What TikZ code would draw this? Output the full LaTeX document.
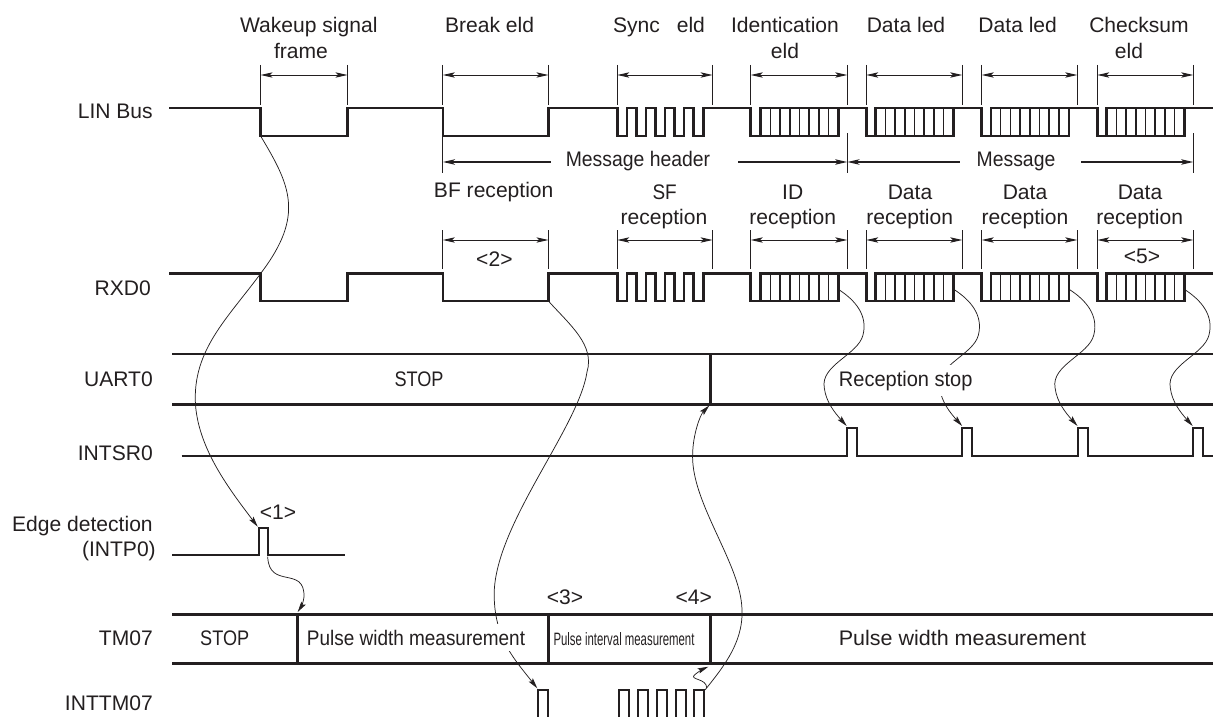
\documentclass[tikz,border=0pt]{standalone}
\usepackage{graphicx}
\usepackage{fontspec}
\setmainfont{Liberation Sans}
\usetikzlibrary{arrows.meta, positioning}
\definecolor{ink}{HTML}{231F20}

\begin{document}
\begin{tikzpicture}[
    x=0.75pt, y=-0.75pt,
    every node/.style={font=\fontsize{15.8}{18}\selectfont, text=ink, inner sep=0pt, anchor=base},
    leftlabel/.style={anchor=base east},
    wave/.style={draw=ink, line width=1.9pt, line join=miter},
    flagline/.style={draw=ink, line width=1.5pt},
    tooth/.style={draw=ink, line width=1.1pt},
    band/.style={draw=ink, line width=2pt},
    tick/.style={draw=ink, line width=0.6pt},
    dim/.style={draw=ink, line width=0.7pt, {Stealth[length=9pt, width=4pt, inset=2pt]}-{Stealth[length=9pt, width=4pt, inset=2pt]}},
    span/.style={draw=ink, line width=1.3pt},
    trace/.style={draw=ink, line width=0.55pt, -{Stealth[length=8pt, width=4pt, inset=1.5pt]}},
    blank/.style={fill=white, inner xsep=1pt, inner ysep=4pt}
]
    \useasboundingbox (0,0) rectangle (1213,717);

    % waveforms on the two bus rows
    \foreach \hi/\lo in {108/136, 273.5/301} {
        \draw[wave] (169,\hi) -| (260.6,\lo) -| (347.5,\hi) -| (442.8,\lo) -| (548.4,\hi)
            -| (617.3,\lo) -| (626.9,\hi) -| (636.4,\lo) -| (646,\hi) -| (655.5,\lo)
            -| (665.1,\hi) -| (674.6,\lo) -| (684.2,\hi) -| (693.7,\lo) -| (703.3,\hi)
            -| (750.7,\lo) -| (838.3,\hi) -| (866.3,\lo) -| (953.7,\hi)
            -| (981.7,\lo) -| (1069,\hi) -| (1097.3,\lo) -| (1184.3,\hi) -- (1213,\hi);
        \foreach \s in {760.7, 875.7, 991, 1106.7} {
            \draw[wave] (\s,\lo) -- (\s,\hi) -- ({\s+77.6},\hi);
            \foreach \k in {1,...,7}
                \draw[tooth] ({\s+\k*9.7},\hi) -- ({\s+\k*9.7},\lo);
        }
    }

    % field widths
    \foreach \a/\b in {260.6/347.5, 442.8/548.4, 617.3/712.6, 750.7/847.3, 866.3/962.3, 981.7/1077.3, 1097.3/1193.3} {
        \coordinate (upleft) at (\a,75);
        \coordinate (upright) at (\b,75);
        \draw[tick] (\a,65) -- (\a,105);
        \draw[tick] (\b,65) -- (\b,105);
        \draw[dim] (upleft) -- (upright);
    }
    \foreach \a/\b in {442.8/548.4, 617.3/712.6, 750.7/847.3, 866.3/962.3, 981.7/1077.3, 1097.3/1193.3} {
        \coordinate (lowleft) at (\a,240);
        \coordinate (lowright) at (\b,240);
        \draw[tick] (\a,230) -- (\a,269);
        \draw[tick] (\b,230) -- (\b,269);
        \draw[dim] (lowleft) -- (lowright);
    }

    % message spans
    \coordinate (headstart) at (442.8,162);
    \coordinate (headstop) at (550.7,162);
    \coordinate (headgo) at (738,162);
    \coordinate (headend) at (847.3,162);
    \coordinate (bodystop) at (960,162);
    \coordinate (bodygo) at (1081,162);
    \coordinate (bodyend) at (1193.3,162);
    \draw[tick] (442.8,136) -- (442.8,172.7);
    \draw[tick] (847.3,133) -- (847.3,172.7);
    \draw[tick] (1193.3,133) -- (1193.3,172.7);
    \draw[span, {Stealth[length=9pt, width=4pt, inset=2pt]}-] (headstart) -- (headstop);
    \draw[span, -{Stealth[length=9pt, width=4pt, inset=2pt]}] (headgo) -- (headend);
    \draw[span, {Stealth[length=9pt, width=4pt, inset=2pt]}-] (headend) -- (bodystop);
    \draw[span, -{Stealth[length=9pt, width=4pt, inset=2pt]}] (bodygo) -- (bodyend);

    % interrupt and state rows
    \draw[flagline] (181.7,455.7) -| (846.7,427.7) -| (856.7,455.7) -| (962.3,427.7) -| (972.3,455.7)
        -| (1077.7,427.7) -| (1087.7,455.7) -| (1192.7,427.7) -| (1202.7,455.7) -- (1213,455.7);
    \draw[flagline] (172,555.3) -| (258.7,527.7) -| (268,555.3) -- (344.7,555.3);
    \foreach \x in {538.3, 619.3, 638.1, 656.8, 675.6, 694.3}
        \draw[flagline] (\x,717) |- ({\x+10},690) -- ({\x+10},717);

    \draw[band] (172,354) -- (1213,354);
    \draw[band] (172,404.5) -- (1213,404.5);
    \draw[band] (710.7,354) -- (710.7,404.5);
    \draw[band] (172,614.3) -- (1213,614.3);
    \draw[band] (172,663.3) -- (1213,663.3);
    \foreach \x in {297.5, 548.7, 710.3}
        \draw[band] (\x,614.3) -- (\x,663.3);

    % traces
    \coordinate (wakefall) at (260.6,136);
    \coordinate (edgepulse) at (257.7,526.7);
    \coordinate (edgefall) at (267.7,556.7);
    \coordinate (timerstart) at (297.7,612);
    \coordinate (breakrise) at (548.4,301);
    \coordinate (firstpulse) at (537.3,688.3);
    \coordinate (lastpulse) at (705,690);
    \coordinate (uartstart) at (709.3,405.5);
    \coordinate (lasttop) at (706.7,688);
    \coordinate (timerstop) at (708.3,666.7);
    \draw[trace] (wakefall) .. controls (290,185) and (305,215) .. (261,273)
        .. controls (228,318) and (192,350) .. (195.5,405)
        .. controls (199,450) and (230,490) .. (edgepulse);
    \draw[trace] (edgefall) .. controls (269,590) and (305,565) .. (304,597)
        .. controls (303.5,602) and (301,607) .. (timerstart);
    \draw[trace] (breakrise) .. controls (570,325) and (595,345) .. (587,372)
        .. controls (578,430) and (490,530) .. (494.3,600)
        .. controls (496,640) and (515,660) .. (firstpulse);
    \draw[trace] (lastpulse) .. controls (725,665) and (745,640) .. (741.7,605)
        .. controls (738,560) and (690,500) .. (692.7,453)
        .. controls (693,435) and (700,415) .. (uartstart);
    \draw[trace] (lasttop) .. controls (707,678) and (688,680) .. (695,674.5)
        .. controls (698,672) and (703,669) .. (timerstop);
    \foreach \i/\s in {1/0, 2/115.4, 3/230.8, 4/346} {
        \coordinate (rxstart\i) at ({838.3+\s},289.3);
        \coordinate (srpulse\i) at ({846.7+\s},426);
        \draw[trace] (rxstart\i) .. controls ({855+\s},300) and ({868+\s},315) .. ({863+\s},335)
            .. controls ({858+\s},355) and ({820+\s},365) .. ({824.3+\s},388)
            .. controls ({826+\s},402) and ({835+\s},413) .. (srpulse\i);
    }

    % row names
    \node[leftlabel] (linbus) at (153,118) {LIN Bus};
    \node[leftlabel] (rxd) at (151,295) {RXD0};
    \node[leftlabel] (uart) at (153,386) {UART0};
    \node[leftlabel] (intsr) at (153,460) {INTSR0};
    \node[leftlabel] (edge) at (153,531) {Edge detection};
    \node[leftlabel] (intp) at (156,556.7) {(INTP0)};
    \node[leftlabel] (tm) at (153,645) {TM07};
    \node[leftlabel] (inttm) at (153,710) {INTTM07};

    % field names
    \node (wakeup) at (308.8,33) {Wakeup signal};
    \node (frame) at (301,59) {frame};
    \node (breakf) at (489.5,33) {Break eld};
    \node (syncf) at (659,33) {Sync\hspace{12.75pt}eld};
    \node (ident) at (785,33) {Identication};
    \node (identf) at (785,59) {eld};
    \node (dataa) at (906,33) {Data led};
    \node (datab) at (1017.7,33) {Data led};
    \node (check) at (1139,33) {Checksum};
    \node (checkf) at (1129,59) {eld};
    \node (header) at (638,166.7) {\scalebox{0.92}[1]{Message header}};
    \node (message) at (1016,166.7) {\scalebox{0.92}[1]{Message}};
    \node (bfrec) at (493.7,197.7) {BF reception};
    \node (sfname) at (664.7,199) {\scalebox{0.9}[1]{SF}};
    \node (sfrec) at (664,224) {reception};
    \node (idname) at (792.7,199) {ID};
    \node (idrec) at (792.7,224) {reception};
    \node (dataone) at (910,199) {Data};
    \node (recone) at (909.7,224) {reception};
    \node (datatwo) at (1025,199) {Data};
    \node (rectwo) at (1025,224) {reception};
    \node (datathree) at (1140,199) {Data};
    \node (recthree) at (1139.7,224) {reception};

    % state texts and step marks
    \node (uartstop) at (419,386) {\scalebox{0.86}[1]{STOP}};
    \node[blank] (recstop) at (905.7,386) {\scalebox{0.95}[1]{Reception stop}};
    \node (tmstop) at (224.7,645) {\scalebox{0.86}[1]{STOP}};
    \node[blank] (widthone) at (416,645) {\scalebox{0.9}[1]{Pulse width measurement}};
    \node (interval) at (624,645) {\scalebox{0.54}[0.85]{Pulse interval measurement}};
    \node (widthtwo) at (962.5,645) {\scalebox{1.02}[1]{Pulse width measurement}};
    \node (stepone) at (278,519) {<1>};
    \node (steptwo) at (494.4,266.7) {<2>};
    \node (stepthree) at (565,604) {<3>};
    \node (stepfour) at (693.7,604) {<4>};
    \node (stepfive) at (1142,263) {<5>};
\end{tikzpicture}
\end{document}
